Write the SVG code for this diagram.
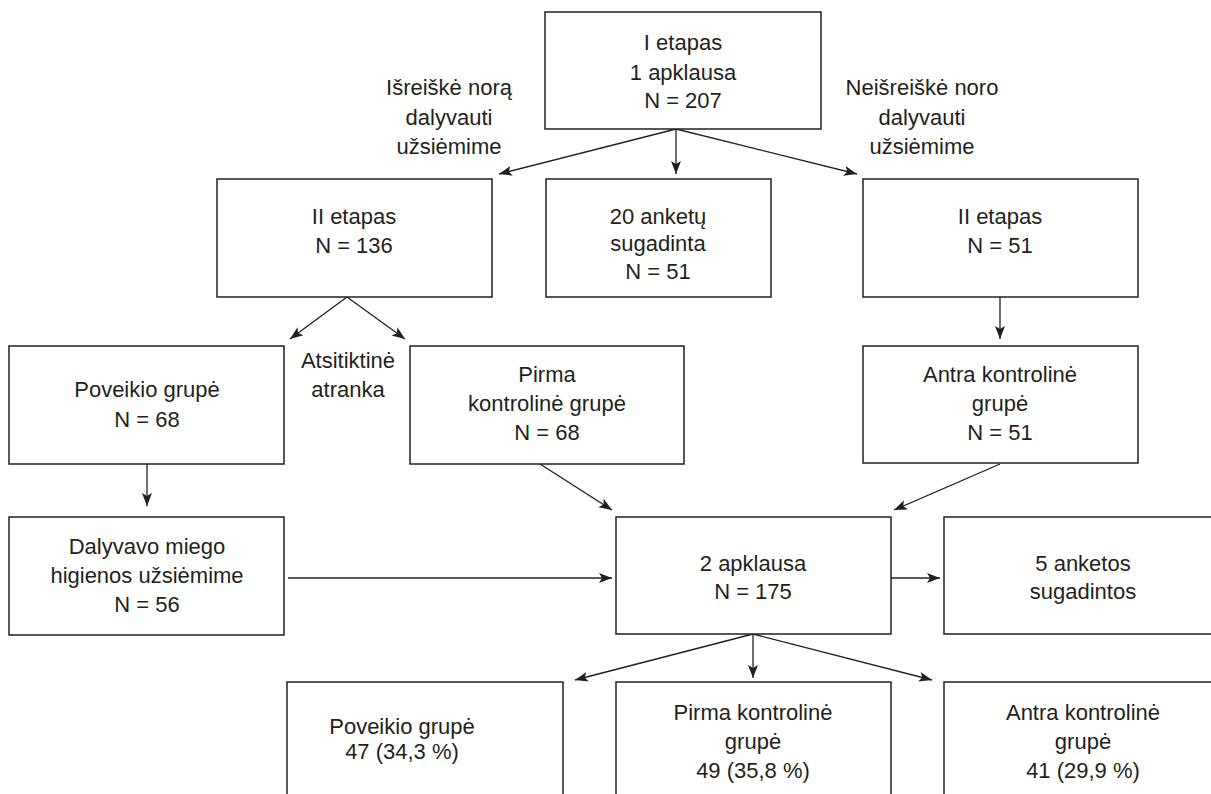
<svg xmlns="http://www.w3.org/2000/svg" width="1211" height="794" viewBox="0 0 1211 794">
<style>
.box{fill:#fff;stroke:#231f20;stroke-width:1.5}
.c{fill:none;stroke:#231f20;stroke-width:1.3;marker-end:url(#ah)}
text{font-family:"Liberation Sans",Arial,sans-serif;font-size:22px;fill:#231f20;text-anchor:middle}
</style>
<defs>
<marker id="ah" markerUnits="userSpaceOnUse" markerWidth="14" markerHeight="12" refX="13" refY="5" orient="auto" viewBox="0 0 14 10">
<path d="M0,0 L13,5 L0,10 L3,5 z" fill="#231f20"/>
</marker>
</defs>
<rect width="1211" height="794" fill="#fff"/>
<g id="connectors">
<line class="c" x1="676" y1="129" x2="499" y2="174"/>
<line class="c" x1="676" y1="129" x2="676" y2="174"/>
<line class="c" x1="676" y1="129" x2="857" y2="174"/>
<line class="c" x1="347" y1="297" x2="290" y2="339"/>
<line class="c" x1="347" y1="297" x2="405" y2="339"/>
<line class="c" x1="1000" y1="297" x2="1000" y2="339"/>
<line class="c" x1="147" y1="464" x2="147" y2="506"/>
<line class="c" x1="540" y1="464" x2="612" y2="510"/>
<line class="c" x1="1000" y1="464" x2="894" y2="510"/>
<line class="c" x1="288" y1="578" x2="612" y2="578"/>
<line class="c" x1="891" y1="578" x2="940" y2="578"/>
<line class="c" x1="753" y1="634" x2="575" y2="680"/>
<line class="c" x1="753" y1="634" x2="753" y2="678"/>
<line class="c" x1="753" y1="634" x2="932" y2="680"/>
</g>
<g id="label-left">
<text x="449" y="95">Išreiškė norą</text>
<text x="449" y="125">dalyvauti</text>
<text x="449" y="154">užsiėmime</text>
</g>
<g id="label-right">
<text x="922" y="95">Neišreiškė noro</text>
<text x="922" y="125">dalyvauti</text>
<text x="922" y="154">užsiėmime</text>
</g>
<g id="label-random">
<text x="348" y="368">Atsitiktinė</text>
<text x="348" y="397">atranka</text>
</g>
<g id="n-etapas1">
<rect class="box" x="545" y="12" width="276" height="117"/>
<text x="683" y="50">I etapas</text>
<text x="683" y="80">1 apklausa</text>
<text x="683" y="108">N = 207</text>
</g>
<g id="n-etapas2-left">
<rect class="box" x="217" y="179" width="275" height="118"/>
<text x="354" y="224">II etapas</text>
<text x="354" y="253">N = 136</text>
</g>
<g id="n-spoiled20">
<rect class="box" x="546" y="179" width="225" height="118"/>
<text x="658" y="224">20 anketų</text>
<text x="658" y="251">sugadinta</text>
<text x="658" y="279">N = 51</text>
</g>
<g id="n-etapas2-right">
<rect class="box" x="863" y="179" width="275" height="118"/>
<text x="1000" y="224">II etapas</text>
<text x="1000" y="253">N = 51</text>
</g>
<g id="n-poveikio">
<rect class="box" x="9" y="346" width="275" height="118"/>
<text x="147" y="397">Poveikio grupė</text>
<text x="147" y="427">N = 68</text>
</g>
<g id="n-pirma">
<rect class="box" x="410" y="346" width="274" height="118"/>
<text x="547" y="382">Pirma</text>
<text x="547" y="411">kontrolinė grupė</text>
<text x="547" y="440">N = 68</text>
</g>
<g id="n-antra">
<rect class="box" x="863" y="346" width="275" height="117"/>
<text x="1000" y="382">Antra kontrolinė</text>
<text x="1000" y="411">grupė</text>
<text x="1000" y="440">N = 51</text>
</g>
<g id="n-dalyvavo">
<rect class="box" x="9" y="517" width="275" height="118"/>
<text x="147" y="554">Dalyvavo miego</text>
<text x="147" y="583">higienos užsiėmime</text>
<text x="147" y="612">N = 56</text>
</g>
<g id="n-apklausa2">
<rect class="box" x="616" y="517" width="275" height="117"/>
<text x="753" y="571">2 apklausa</text>
<text x="753" y="599">N = 175</text>
</g>
<g id="n-spoiled5">
<rect class="box" x="944" y="517" width="276" height="117"/>
<text x="1083" y="571">5 anketos</text>
<text x="1083" y="599">sugadintos</text>
</g>
<g id="n-res-poveikio">
<rect class="box" x="287" y="682" width="276" height="130"/>
<text x="402" y="734">Poveikio grupė</text>
<text x="402" y="759">47 (34,3 %)</text>
</g>
<g id="n-res-pirma">
<rect class="box" x="616" y="682" width="275" height="130"/>
<text x="753" y="720">Pirma kontrolinė</text>
<text x="753" y="749">grupė</text>
<text x="753" y="778">49 (35,8 %)</text>
</g>
<g id="n-res-antra">
<rect class="box" x="944" y="682" width="276" height="130"/>
<text x="1083" y="720">Antra kontrolinė</text>
<text x="1083" y="749">grupė</text>
<text x="1083" y="778">41 (29,9 %)</text>
</g>
</svg>
